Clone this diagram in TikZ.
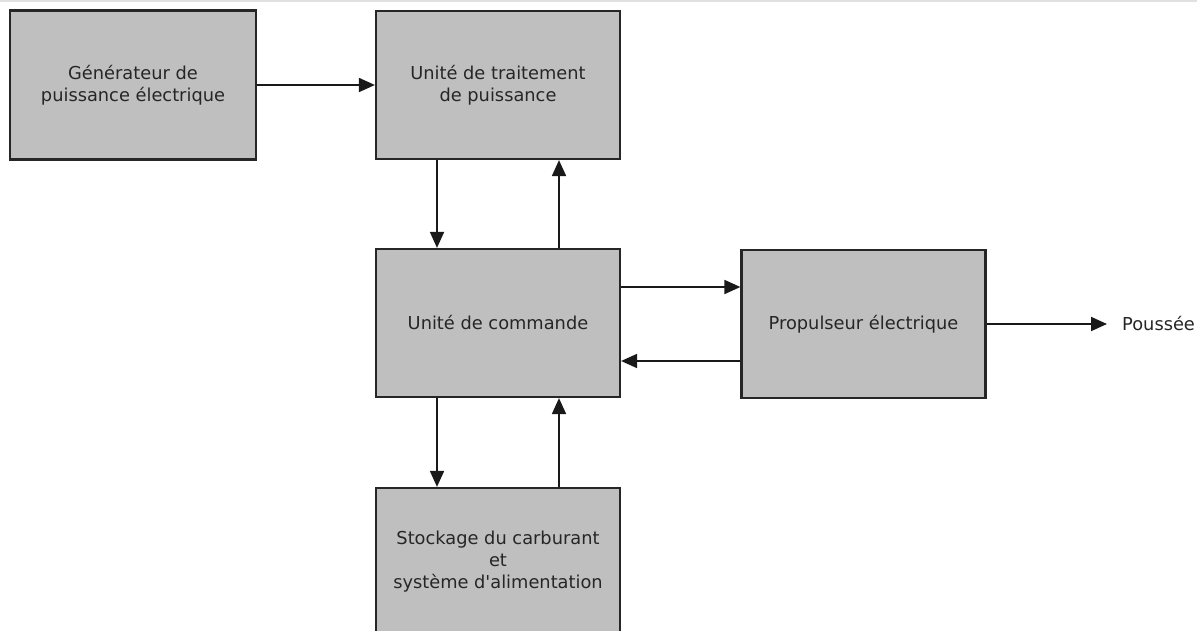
\documentclass[tikz,border=0pt]{standalone}
\usepackage{fontspec}
\setmainfont{DejaVu Sans}
\usetikzlibrary{arrows.meta}
\begin{document}
\begin{tikzpicture}[x=1pt,y=-1pt,
  txt/.style={font=\fontsize{17.8}{22}\selectfont,text=black!85},
  blk/.style={txt,draw=black!85,line width=2.2pt,fill=black!25,minimum width=244pt,minimum height=148pt,inner sep=0pt,align=center},
  conn/.style={line width=1.8pt,draw=black!90,-{Triangle[length=16pt,width=14pt]}}]
\useasboundingbox (0,0) rectangle (1197,631);
\clip (0,0) rectangle (1197,631);
\fill[white] (0,0) rectangle (1197,631);
\draw[black!12,line width=2pt] (0,1) -- (1197,1);
\node[blk,minimum width=246pt,minimum height=149pt] (gen) at (133,85) {Générateur de\\puissance électrique};
\node[blk] (ptu) at (498,85) {Unité de traitement\\de puissance};
\node[blk] (cmd) at (498,323) {Unité de commande};
\node[blk] (thr) at (863.5,324) {Propulseur électrique};
\node[blk] (sto) at (498,562) {Stockage du carburant\\et\\système d\textquotesingle alimentation};
\node[txt,anchor=west,inner sep=0pt] (pou) at (1122,324) {Poussée};
\draw[conn] (gen.east) -- (ptu.west);
\draw[conn] ([xshift=-61pt]ptu.south) -- ([xshift=-61pt]cmd.north);
\draw[conn] ([xshift=61pt]cmd.north) -- ([xshift=61pt]ptu.south);
\draw[conn] ([yshift=36pt]cmd.east) -- ([yshift=37pt]thr.west);
\draw[conn] ([yshift=-37pt]thr.west) -- ([yshift=-38pt]cmd.east);
\draw[conn] (thr.east) -- ([xshift=-15pt]pou.west);
\draw[conn] ([xshift=-61pt]cmd.south) -- ([xshift=-61pt]sto.north);
\draw[conn] ([xshift=61pt]sto.north) -- ([xshift=61pt]cmd.south);
\end{tikzpicture}
\end{document}
